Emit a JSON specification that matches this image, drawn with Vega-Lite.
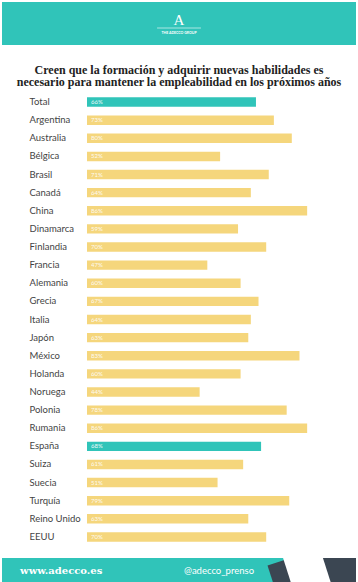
{
  "$schema": "https://vega.github.io/schema/vega-lite/v6.json",
  "padding": {"left": 2, "right": 2, "top": 2, "bottom": 1},
  "background": "white",
  "config": {"view": {"stroke": null}},
  "spacing": 18,
  "vconcat": [
    {
      "width": 354,
      "height": 43,
      "view": {"fill": "#30c4b9", "stroke": null},
      "data": {"values": [{}]},
      "layer": [
        {
          "mark": {"type": "text", "font": "Liberation Serif", "fontSize": 15, "color": "white", "baseline": "middle", "align": "center"},
          "encoding": {
            "x": {"datum": 50, "type": "quantitative", "scale": {"domain": [0, 100]}, "axis": null},
            "y": {"datum": 58, "type": "quantitative", "scale": {"domain": [0, 100]}, "axis": null},
            "text": {"value": "A"}
          }
        },
        {
          "mark": {"type": "rule", "color": "white", "strokeWidth": 0.7, "opacity": 0.85},
          "encoding": {
            "x": {"datum": 43.8, "type": "quantitative"},
            "x2": {"datum": 56.2},
            "y": {"datum": 39.5, "type": "quantitative"}
          }
        },
        {
          "mark": {"type": "text", "font": "Lato", "fontSize": 3.5, "fontWeight": "bold", "color": "white", "baseline": "middle", "align": "center"},
          "encoding": {
            "x": {"datum": 50, "type": "quantitative"},
            "y": {"datum": 28, "type": "quantitative"},
            "text": {"value": "THE ADECCO GROUP"}
          }
        }
      ]
    },
    {
      "spacing": 12,
      "vconcat": [
        {
          "width": 354,
          "height": 453,
          "title": {
            "text": ["Creen que la formación y adquirir nuevas habilidades es", "necesario para mantener la empleabilidad en los próximos años"],
            "font": "Liberation Serif",
            "fontWeight": "bold",
            "fontSize": 12,
            "color": "#222222",
            "lineHeight": 12.5,
            "offset": 4,
            "anchor": "middle"
          },
          "data": {
            "values": [
              {"pais": "Total", "valor": 0.66},
              {"pais": "Argentina", "valor": 0.73},
              {"pais": "Australia", "valor": 0.80},
              {"pais": "Bélgica", "valor": 0.52},
              {"pais": "Brasil", "valor": 0.71},
              {"pais": "Canadá", "valor": 0.64},
              {"pais": "China", "valor": 0.86},
              {"pais": "Dinamarca", "valor": 0.59},
              {"pais": "Finlandia", "valor": 0.70},
              {"pais": "Francia", "valor": 0.47},
              {"pais": "Alemania", "valor": 0.60},
              {"pais": "Grecia", "valor": 0.67},
              {"pais": "Italia", "valor": 0.64},
              {"pais": "Japón", "valor": 0.63},
              {"pais": "México", "valor": 0.83},
              {"pais": "Holanda", "valor": 0.60},
              {"pais": "Noruega", "valor": 0.44},
              {"pais": "Polonia", "valor": 0.78},
              {"pais": "Rumania", "valor": 0.86},
              {"pais": "España", "valor": 0.68},
              {"pais": "Suiza", "valor": 0.61},
              {"pais": "Suecia", "valor": 0.51},
              {"pais": "Turquía", "valor": 0.79},
              {"pais": "Reino Unido", "valor": 0.63},
              {"pais": "EEUU", "valor": 0.70}
            ]
          },
          "encoding": {
            "y": {
              "field": "pais",
              "type": "nominal",
              "sort": null,
              "scale": {"paddingInner": 0.48, "paddingOuter": 0.24},
              "axis": {
                "title": null,
                "domain": false,
                "ticks": false,
                "tickSize": 0,
                "offset": -27,
                "labelAlign": "left",
                "labelPadding": 0,
                "labelBaseline": "middle",
                "labelFont": "Lato",
                "labelFontSize": 9.5,
                "labelColor": "#444444"
              }
            }
          },
          "layer": [
            {
              "mark": {"type": "bar"},
              "encoding": {
                "x": {"field": "valor", "type": "quantitative", "scale": {"domain": [0, 1], "range": [85, 341]}, "axis": null},
                "color": {
                  "condition": {"test": "datum.pais === 'Total' || datum.pais === 'España'", "value": "#30c4b9"},
                  "value": "#f5d67c"
                }
              }
            },
            {
              "mark": {"type": "text", "align": "left", "baseline": "middle", "dx": 4, "font": "Lato", "fontSize": 6, "color": "white", "opacity": 0.9},
              "encoding": {
                "x": {"datum": 0, "type": "quantitative"},
                "text": {"field": "valor", "type": "quantitative", "format": ".0%"}
              }
            }
          ]
        },
        {
          "width": 354,
          "height": 25,
          "view": {"fill": "#30c4b9", "stroke": null},
          "data": {"values": [{}]},
          "layer": [
            {
              "mark": {"type": "rule", "color": "#3b4652", "strokeWidth": 114, "clip": true},
              "encoding": {
                "x": {"datum": 90.34, "type": "quantitative", "scale": {"domain": [0, 100]}, "axis": null},
                "x2": {"datum": 94.41},
                "y": {"datum": 140, "type": "quantitative", "scale": {"domain": [0, 100]}, "axis": null},
                "y2": {"datum": -40}
              }
            },
            {
              "mark": {"type": "rule", "color": "white", "strokeWidth": 38, "clip": true},
              "encoding": {
                "x": {"datum": 84.12, "type": "quantitative"},
                "x2": {"datum": 88.19},
                "y": {"datum": 140, "type": "quantitative"},
                "y2": {"datum": -40}
              }
            },
            {
              "mark": {"type": "text", "align": "left", "baseline": "middle", "font": "DejaVu Serif", "fontWeight": "bold", "fontSize": 10, "color": "white"},
              "encoding": {
                "x": {"datum": 5.1, "type": "quantitative"},
                "y": {"datum": 50, "type": "quantitative"},
                "text": {"value": "www.adecco.es"}
              }
            },
            {
              "mark": {"type": "text", "align": "left", "baseline": "middle", "font": "Lato", "fontSize": 9.5, "color": "white"},
              "encoding": {
                "x": {"datum": 51.4, "type": "quantitative"},
                "y": {"datum": 50, "type": "quantitative"},
                "text": {"value": "@adecco_prenso"}
              }
            }
          ]
        }
      ]
    }
  ]
}
